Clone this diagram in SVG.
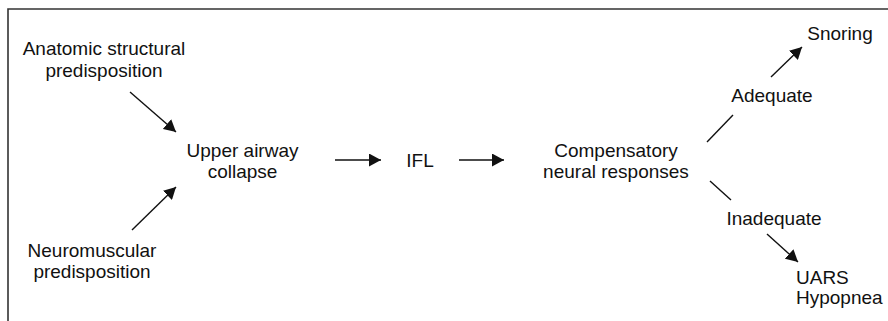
<svg xmlns="http://www.w3.org/2000/svg" width="888" height="321" viewBox="0 0 888 321">
<style>
  text { font-family: "Liberation Sans", Arial, sans-serif; font-size: 19px; fill: #111; }
  .c { text-anchor: middle; }
  .ln { stroke: #111; stroke-width: 1.4; fill: none; }
  .arr { marker-end: url(#ah); }
</style>
<defs>
  <marker id="ah" markerUnits="userSpaceOnUse" markerWidth="13" markerHeight="13" refX="12" refY="6.5" orient="auto">
    <path d="M0,0 L12,6.5 L0,13 z" fill="#111"/>
  </marker>
</defs>
<rect x="0" y="0" width="888" height="321" fill="#fff"/>
<path d="M8,321 V9 H888" stroke="#333" stroke-width="1.6" fill="none"/>

<g id="anatomic"><text class="c" x="104" y="55">Anatomic structural</text><text class="c" x="104" y="77">predisposition</text></g>
<g id="neuromuscular"><text class="c" x="92" y="257">Neuromuscular</text><text class="c" x="92" y="278">predisposition</text></g>
<g id="collapse"><text class="c" x="242.5" y="157">Upper airway</text><text class="c" x="242.5" y="178">collapse</text></g>
<g id="ifl"><text class="c" x="420" y="167">IFL</text></g>
<g id="compensatory"><text class="c" x="616" y="157">Compensatory</text><text class="c" x="616" y="178">neural responses</text></g>
<g id="snoring"><text class="c" x="840" y="40">Snoring</text></g>
<g id="adequate"><text class="c" x="772" y="102">Adequate</text></g>
<g id="inadequate"><text class="c" x="774" y="225">Inadequate</text></g>
<g id="uars"><text x="796" y="284">UARS</text><text x="796" y="304">Hypopnea</text></g>

<g id="connectors">
  <line class="ln arr" x1="130" y1="92" x2="176" y2="132"/>
  <line class="ln arr" x1="132" y1="230" x2="176" y2="187"/>
  <line class="ln arr" x1="335" y1="160" x2="381" y2="160"/>
  <line class="ln arr" x1="459" y1="160" x2="504" y2="160"/>
  <line class="ln" x1="707" y1="142" x2="733" y2="115"/>
  <line class="ln arr" x1="771" y1="77" x2="802" y2="47"/>
  <line class="ln" x1="710" y1="181" x2="731" y2="200"/>
  <line class="ln arr" x1="767" y1="234" x2="798" y2="262"/>
</g>
</svg>
